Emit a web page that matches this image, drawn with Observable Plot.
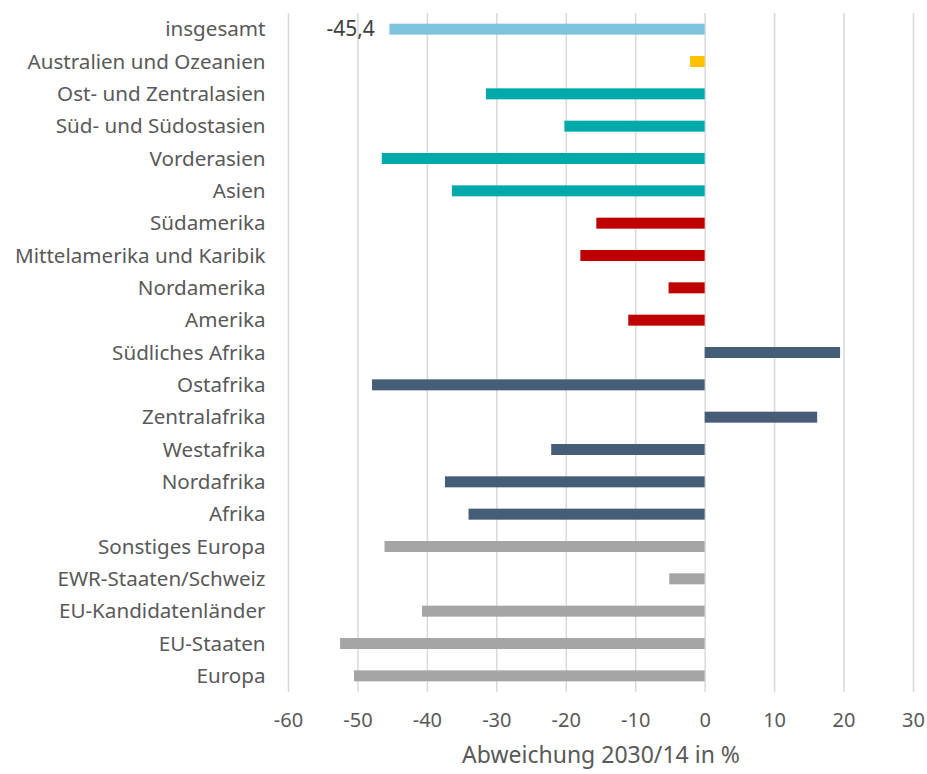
<!DOCTYPE html>
<html>
<head>
<meta charset="utf-8">
<script src="https://cdn.jsdelivr.net/npm/d3@7"></script>
<script src="https://cdn.jsdelivr.net/npm/@observablehq/plot@0.6"></script>
<style>
  html, body { margin: 0; padding: 0; background: #fff; }
  #chart svg { display: block; }
</style>
</head>
<body>
<div id="chart"></div>
<script>
const categories = [
  "insgesamt",
  "Australien und Ozeanien",
  "Ost- und Zentralasien",
  "Süd- und Südostasien",
  "Vorderasien",
  "Asien",
  "Südamerika",
  "Mittelamerika und Karibik",
  "Nordamerika",
  "Amerika",
  "Südliches Afrika",
  "Ostafrika",
  "Zentralafrika",
  "Westafrika",
  "Nordafrika",
  "Afrika",
  "Sonstiges Europa",
  "EWR-Staaten/Schweiz",
  "EU-Kandidatenländer",
  "EU-Staaten",
  "Europa"
];
const values = [
  -45.4, -2.1, -31.5, -20.2, -46.5, -36.4,
  -15.6, -17.9, -5.2, -11.0,
  19.5, -47.9, 16.2, -22.1, -37.4, -34.0,
  -46.1, -5.1, -40.7, -52.5, -50.5
];
const groups = [
  "Gesamt", "Ozeanien", "Asien", "Asien", "Asien", "Asien",
  "Amerika", "Amerika", "Amerika", "Amerika",
  "Afrika", "Afrika", "Afrika", "Afrika", "Afrika", "Afrika",
  "Europa", "Europa", "Europa", "Europa", "Europa"
];
const groupNames = ["Gesamt", "Ozeanien", "Asien", "Amerika", "Afrika", "Europa"];
const groupColors = ["#7FC4DF", "#FFC000", "#00A9AA", "#C00000", "#465D78", "#A5A5A5"];
const xTicks = [-60, -50, -40, -30, -20, -10, 0, 10, 20, 30];
const labelled = ["insgesamt"];
const labelTexts = ["-45,4"];
const xLabel = "Abweichung 2030/14 in %";

const data = categories.map((c, i) => ({category: c, value: values[i], group: groups[i]}));
const labelData = data.filter(d => labelled.includes(d.category))
  .map(d => ({...d, text: labelTexts[labelled.indexOf(d.category)]}));

const font = "'Noto Sans', sans-serif";

const chart = Plot.plot({
  width: 927,
  height: 774,
  marginLeft: 288,
  marginRight: 14,
  marginTop: 13,
  marginBottom: 82,
  style: {fontFamily: font, color: "#595959", background: "#fff"},
  x: {domain: [-60, 30], ticks: xTicks},
  y: {domain: categories, paddingInner: 0.66, paddingOuter: 0.33, round: false},
  color: {domain: groupNames, range: groupColors},
  marks: [
    Plot.gridX(xTicks, {stroke: "#D9D9D9", strokeOpacity: 1, strokeWidth: 1.5}),
    Plot.barX(data, {x: "value", y: "category", fill: "group"}),
    Plot.text(labelData, {x: "value", y: "category", text: "text", textAnchor: "end", dx: -15, fontSize: 21, fill: "#404040"}),
    Plot.axisY({tickSize: 0, tickPadding: 23, fontSize: 20.6, fill: "#595959", label: null}),
    Plot.axisX({ticks: xTicks, tickSize: 0, tickPadding: 20, fontSize: 20, fill: "#595959",
      tickFormat: d => (d < 0 ? "-" + Math.abs(d) : String(d)), label: null}),
    Plot.text([xLabel], {frameAnchor: "bottom", dy: 70, text: d => d, fontSize: 23, fill: "#595959"})
  ]
});
document.getElementById("chart").appendChild(chart);
</script>
</body>
</html>
